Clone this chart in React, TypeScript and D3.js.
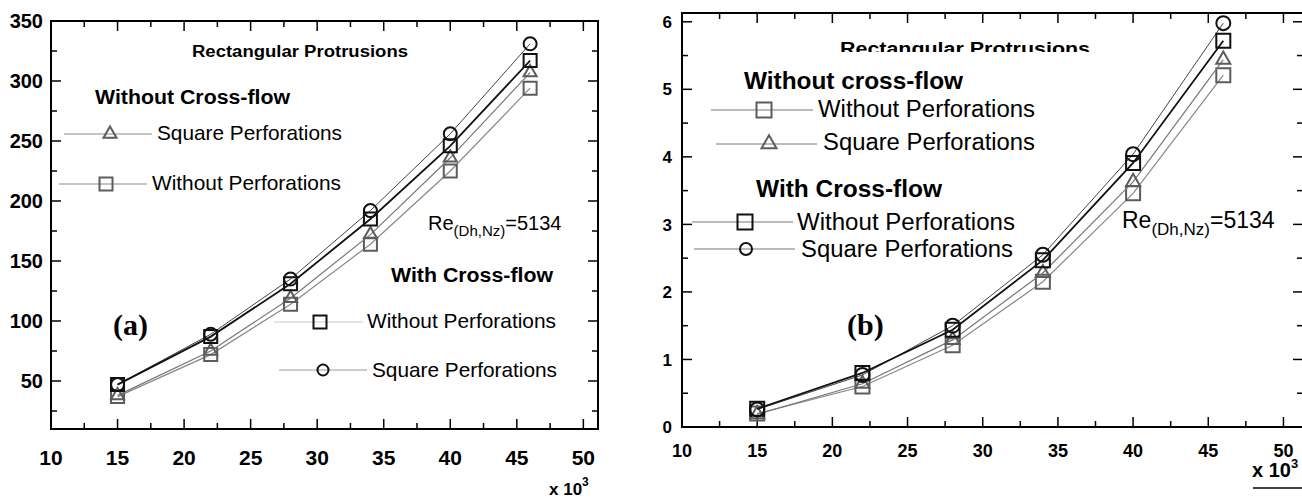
import React from 'react'
import * as d3 from 'd3'

// Reynolds number (x 10^3)
const reynolds = [15, 22, 28, 34, 40, 46]
const xTickLabels = [10, 15, 20, 25, 30, 35, 40, 45, 50]

// panel (a)
const aNoCrossSquare = [38, 75, 119, 172, 236, 307]
const aNoCrossWithout = [37, 72, 114, 164, 225, 294]
const aCrossWithout = [47, 87, 131, 185, 246, 317]
const aCrossSquare = [47, 89, 135, 192, 256, 331]
const aYTicks = [50, 100, 150, 200, 250, 300, 350]

// panel (b)
const bNoCrossWithout = [0.2, 0.6, 1.21, 2.15, 3.46, 5.21]
const bNoCrossSquare = [0.19, 0.64, 1.29, 2.28, 3.63, 5.44]
const bCrossWithout = [0.27, 0.8, 1.44, 2.47, 3.91, 5.72]
const bCrossSquare = [0.26, 0.77, 1.5, 2.55, 4.04, 5.98]
const bYTicks = [0, 1, 2, 3, 4, 5, 6]

const SANS = '"Liberation Sans", Arial, sans-serif'
const SERIF = '"Liberation Serif", "Times New Roman", serif'
const GRAY = '#5c5c5c'
const BLACK = '#111'

const symbols = { square: d3.symbolSquare, triangle: d3.symbolTriangle, circle: d3.symbolCircle }

const markerPath = (shape, size) => {
    let area = size * size
    if (shape === 'circle') area = Math.PI * (size / 2) * (size / 2)
    if (shape === 'triangle') area = (Math.sqrt(3) / 4) * size * size
    return d3.symbol(symbols[shape], area)()
}

const Marker = ({ shape, x, y, size, color }) => (
    <path
        d={markerPath(shape, size)}
        transform={`translate(${x},${y})`}
        fill="none"
        stroke={color}
        strokeWidth={2}
    />
)

// legend row: line, marker, label
const LegendRow = ({ x1, x2, mx, y, shape, color, lineColor, size, tx, ty, tw, fontSize, label }) => (
    <g>
        <line x1={x1} x2={x2} y1={y} y2={y} stroke={lineColor} strokeWidth={1} />
        <Marker shape={shape} x={mx} y={y} size={size} color={color} />
        <text x={tx} y={ty} fontFamily={SANS} fontSize={fontSize} textLength={tw} lengthAdjust="spacingAndGlyphs">
            {label}
        </text>
    </g>
)

const Panel = ({ box, xMax, yDomain, yTicks, yMinorStep, series, markerSize, tickFont, xLabelY, yLabelGap, children }) => {
    const x = d3.scaleLinear().domain([10, xMax]).range([box.left, box.right])
    const y = d3.scaleLinear().domain(yDomain).range([box.bottom, box.top])
    const xMinor = xTickLabels.slice(0, -1).map(d => d + 2.5)
    const yMinor = yTicks.map(d => d - yMinorStep).filter(d => d > yDomain[0])
    const line = d3.line().x((d, i) => x(reynolds[i])).y(d => y(d))

    const major = 10
    const minor = 6
    return (
        <g>
            {xTickLabels.map(t => (
                <g key={`xt${t}`}>
                    <line x1={x(t)} x2={x(t)} y1={box.bottom} y2={box.bottom - major} stroke="#000" strokeWidth={1.5} />
                    <line x1={x(t)} x2={x(t)} y1={box.top} y2={box.top + major} stroke="#000" strokeWidth={1.5} />
                    <text x={x(t)} y={xLabelY} textAnchor="middle" fontFamily={SANS} fontWeight="bold" fontSize={tickFont.x}>
                        {t}
                    </text>
                </g>
            ))}
            {xMinor.map(t => (
                <g key={`xm${t}`}>
                    <line x1={x(t)} x2={x(t)} y1={box.bottom} y2={box.bottom - minor} stroke="#000" strokeWidth={1.5} />
                    <line x1={x(t)} x2={x(t)} y1={box.top} y2={box.top + minor} stroke="#000" strokeWidth={1.5} />
                </g>
            ))}
            {yTicks.map(t => (
                <g key={`yt${t}`}>
                    <line x1={box.left} x2={box.left + major} y1={y(t)} y2={y(t)} stroke="#000" strokeWidth={1.5} />
                    <line x1={box.right} x2={box.right - major} y1={y(t)} y2={y(t)} stroke="#000" strokeWidth={1.5} />
                    <text x={box.left - yLabelGap} y={y(t)} dy="0.36em" textAnchor="end" fontFamily={SANS} fontWeight="bold" fontSize={tickFont.y}>
                        {t}
                    </text>
                </g>
            ))}
            {yMinor.map(t => (
                <g key={`ym${t}`}>
                    <line x1={box.left} x2={box.left + minor} y1={y(t)} y2={y(t)} stroke="#000" strokeWidth={1.5} />
                    <line x1={box.right} x2={box.right - minor} y1={y(t)} y2={y(t)} stroke="#000" strokeWidth={1.5} />
                </g>
            ))}
            <rect
                x={box.left}
                y={box.top}
                width={box.right - box.left}
                height={box.bottom - box.top}
                fill="none"
                stroke="#000"
                strokeWidth={2}
            />
            {series.map(s => (
                <g key={s.name}>
                    <path d={line(s.values)} fill="none" stroke={s.lineColor} strokeWidth={s.lineWidth} />
                    {s.values.map((v, i) => (
                        <Marker key={i} shape={s.shape} x={x(reynolds[i])} y={y(v)} size={markerSize} color={s.color} />
                    ))}
                </g>
            ))}
            {children}
        </g>
    )
}

const seriesA = [
    { name: 'ncf-wo', values: aNoCrossWithout, shape: 'square', color: GRAY, lineColor: '#888', lineWidth: 1.2 },
    { name: 'ncf-sq', values: aNoCrossSquare, shape: 'triangle', color: GRAY, lineColor: '#777', lineWidth: 1.2 },
    { name: 'cf-sq', values: aCrossSquare, shape: 'circle', color: BLACK, lineColor: '#444', lineWidth: 1 },
    { name: 'cf-wo', values: aCrossWithout, shape: 'square', color: BLACK, lineColor: '#111', lineWidth: 1.8 },
]

const seriesB = [
    { name: 'ncf-wo', values: bNoCrossWithout, shape: 'square', color: GRAY, lineColor: '#888', lineWidth: 1.2 },
    { name: 'ncf-sq', values: bNoCrossSquare, shape: 'triangle', color: GRAY, lineColor: '#777', lineWidth: 1.2 },
    { name: 'cf-sq', values: bCrossSquare, shape: 'circle', color: BLACK, lineColor: '#444', lineWidth: 1 },
    { name: 'cf-wo', values: bCrossWithout, shape: 'square', color: BLACK, lineColor: '#111', lineWidth: 1.8 },
]

const App = () => {
    return (
        <svg
            width={1302}
            height={499}
            style={{ position: 'absolute', left: 0, top: 0, background: '#fff' }}
        >
            <defs>
                <clipPath id="titleClipB">
                    <rect x={700} y={0} width={500} height={52} />
                </clipPath>
            </defs>
            <rect width={1302} height={499} fill="#fff" />

            <Panel
                box={{ left: 51, right: 598, top: 21, bottom: 429 }}
                xMax={51.1}
                yDomain={[10, 350]}
                yTicks={aYTicks}
                yMinorStep={25}
                series={seriesA}
                markerSize={13}
                tickFont={{ x: 21, y: 20 }}
                xLabelY={465}
                yLabelGap={8}
            >
                <text x={192} y={57} fontFamily={SANS} fontWeight="bold" fontSize={16} textLength={216} lengthAdjust="spacingAndGlyphs">
                    Rectangular Protrusions
                </text>
                <text x={95} y={104} fontFamily={SANS} fontWeight="bold" fontSize={20} textLength={195} lengthAdjust="spacingAndGlyphs">
                    Without Cross-flow
                </text>
                <LegendRow x1={64} x2={152} mx={110} y={134} shape="triangle" color={GRAY} lineColor="#888" size={13}
                    tx={157} ty={140} tw={185} fontSize={21} label="Square Perforations" />
                <LegendRow x1={59} x2={147} mx={106} y={184} shape="square" color={GRAY} lineColor="#888" size={13}
                    tx={152} ty={190} tw={189} fontSize={21} label="Without Perforations" />
                <text x={428} y={230} fontFamily={SANS} fontSize={20}>
                    Re<tspan fontSize={15} dy={6}>(Dh,Nz)</tspan><tspan dy={-6}>=5134</tspan>
                </text>
                <text x={391} y={282} fontFamily={SANS} fontWeight="bold" fontSize={20} textLength={162} lengthAdjust="spacingAndGlyphs">
                    With Cross-flow
                </text>
                <LegendRow x1={274} x2={363} mx={320} y={322} shape="square" color={BLACK} lineColor="#c8c8c8" size={13}
                    tx={367} ty={328} tw={189} fontSize={21} label="Without Perforations" />
                <LegendRow x1={279} x2={367} mx={323} y={370} shape="circle" color={BLACK} lineColor="#999" size={11}
                    tx={372} ty={377} tw={185} fontSize={21} label="Square Perforations" />
                <text x={113} y={335} fontFamily={SERIF} fontWeight="bold" fontSize={30}>(a)</text>
                <text x={549} y={495} fontFamily={SANS} fontWeight="bold" fontSize={17}>
                    x 10<tspan fontSize={12} dy={-9}>3</tspan>
                </text>
            </Panel>

            <Panel
                box={{ left: 682, right: 1303, top: 13, bottom: 427 }}
                xMax={51.3}
                yDomain={[0, 6.13]}
                yTicks={bYTicks}
                yMinorStep={0.5}
                series={seriesB}
                markerSize={14}
                tickFont={{ x: 18, y: 17 }}
                xLabelY={457}
                yLabelGap={10}
            >
                <text x={840} y={55} clipPath="url(#titleClipB)" fontFamily={SANS} fontWeight="bold" fontSize={18} textLength={250} lengthAdjust="spacingAndGlyphs">
                    Rectangular Protrusions
                </text>
                <text x={744} y={89} fontFamily={SANS} fontWeight="bold" fontSize={23} textLength={219} lengthAdjust="spacingAndGlyphs">
                    Without cross-flow
                </text>
                <LegendRow x1={711} x2={813} mx={764} y={110} shape="square" color={GRAY} lineColor="#777" size={15}
                    tx={818} ty={117} tw={217} fontSize={23} label="Without Perforations" />
                <LegendRow x1={716} x2={817} mx={769} y={144} shape="triangle" color={GRAY} lineColor="#777" size={15}
                    tx={823} ty={150} tw={212} fontSize={23} label="Square Perforations" />
                <text x={756} y={197} fontFamily={SANS} fontWeight="bold" fontSize={23} textLength={186} lengthAdjust="spacingAndGlyphs">
                    With Cross-flow
                </text>
                <LegendRow x1={692} x2={793} mx={745} y={222} shape="square" color={BLACK} lineColor="#777" size={15}
                    tx={797} ty={230} tw={218} fontSize={23} label="Without Perforations" />
                <LegendRow x1={694} x2={795} mx={746} y={249} shape="circle" color={BLACK} lineColor="#777" size={12}
                    tx={801} ty={257} tw={212} fontSize={23} label="Square Perforations" />
                <text x={1122} y={228} fontFamily={SANS} fontSize={23}>
                    Re<tspan fontSize={17} dy={7}>(Dh,Nz)</tspan><tspan dy={-7}>=5134</tspan>
                </text>
                <text x={847} y={335} fontFamily={SERIF} fontWeight="bold" fontSize={30}>(b)</text>
                <text x={1252} y={477} fontFamily={SANS} fontWeight="bold" fontSize={20}>
                    x 10<tspan fontSize={13} dy={-9}>3</tspan>
                </text>
                <line x1={1253} x2={1302} y1={488} y2={488} stroke="#000" strokeWidth={1.5} />
            </Panel>
        </svg>
    )
}

export default App
